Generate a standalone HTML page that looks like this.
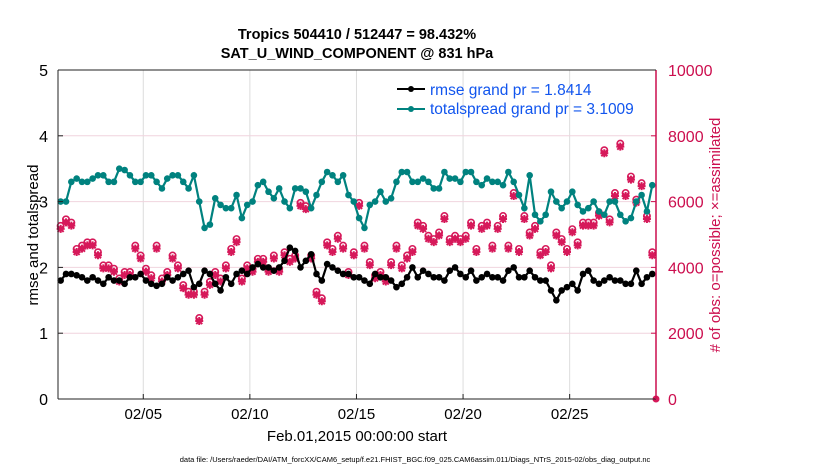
<!DOCTYPE html>
<html><head><meta charset="utf-8"><style>
body{margin:0;background:#fff;}
svg text{font-family:"Liberation Sans",sans-serif;}
</style></head><body>
<svg id="c" width="830" height="470" viewBox="0 0 830 470" xmlns="http://www.w3.org/2000/svg">
<text x="357" y="39" text-anchor="middle" font-size="14.5" font-weight="bold">Tropics 504410 / 512447 = 98.432%</text>
<text x="357" y="58" text-anchor="middle" font-size="14.5" font-weight="bold">SAT_U_WIND_COMPONENT @ 831 hPa</text>
<g id="grid"></g><g id="marks"></g><g id="axes"></g>
<text x="430" y="95" font-size="15.5" fill="#1155ee">rmse grand pr = 1.8414</text>
<text x="430" y="114" font-size="15.5" fill="#1155ee">totalspread grand pr = 3.1009</text>
<line x1="397" y1="89" x2="425" y2="89" stroke="#000" stroke-width="2"/>
<circle cx="411" cy="89" r="3" fill="#000"/>
<line x1="397" y1="109" x2="425" y2="109" stroke="#00827f" stroke-width="2"/>
<circle cx="411" cy="109" r="3" fill="#00827f"/>
<text transform="translate(38,235) rotate(-90)" text-anchor="middle" font-size="15">rmse and totalspread</text>
<text transform="translate(720,235) rotate(-90)" text-anchor="middle" font-size="15" fill="#cc0e4e"># of obs: o=possible; ×=assimilated</text>
<text x="357" y="441" text-anchor="middle" font-size="15">Feb.01,2015 00:00:00 start</text>
<text x="415" y="462" text-anchor="middle" font-size="7.5">data file: /Users/raeder/DAI/ATM_forcXX/CAM6_setup/f.e21.FHIST_BGC.f09_025.CAM6assim.011/Diags_NTrS_2015-02/obs_diag_output.nc</text>
</svg>
<script>
const xTickLabels=["02/05","02/10","02/15","02/20","02/25"];
const xTickDays=[4,9,14,19,24];
const leftTicks=[0,1,2,3,4,5];
const rightTicks=[0,2000,4000,6000,8000,10000];
const spread=[3.0,3.0,3.3,3.35,3.3,3.3,3.35,3.4,3.4,3.3,3.3,3.5,3.48,3.4,3.3,3.3,
3.4,3.4,3.3,3.2,3.35,3.4,3.4,3.3,3.2,3.4,3.0,2.6,2.65,3.05,2.95,2.9,
2.9,3.1,2.75,2.95,3.0,3.25,3.3,3.15,3.05,3.2,3.0,2.9,3.2,3.2,3.15,2.9,
3.1,3.3,3.45,3.4,3.3,3.4,3.1,3.0,
2.75,2.6,2.95,3.0,3.15,3.0,3.05,3.3,
3.45,3.45,3.3,3.3,3.35,3.3,3.2,3.2,3.45,3.35,3.35,3.3,3.45,3.45,3.3,3.25,
3.35,3.3,3.3,3.25,3.45,3.3,3.1,2.9,3.4,2.8,2.7,2.8,3.15,3.0,2.9,3.0,
3.15,2.95,2.85,2.9,3.0,2.85,2.8,3.0,3.0,2.8,2.7,2.75,3.0,3.1,2.85,3.25];
const rmse=[1.8,1.9,1.9,1.88,1.85,1.8,1.85,1.8,1.75,1.85,1.8,1.8,1.75,1.85,1.85,1.9,
1.8,1.75,1.72,1.75,1.85,1.8,1.85,1.9,1.95,1.7,1.75,1.95,1.9,1.75,1.65,1.85,
1.75,1.9,1.95,1.9,2.0,2.05,2.0,2.0,1.95,2.0,2.1,2.3,2.25,2.0,2.1,2.2,
1.9,1.8,2.05,2.0,1.95,1.9,1.9,1.85,
1.85,1.8,1.75,1.9,1.85,1.85,1.8,1.7,
1.75,1.85,2.0,1.85,1.95,1.9,1.85,1.85,1.8,1.95,2.0,1.9,1.85,1.95,1.8,1.85,
1.9,1.85,1.85,1.8,1.95,2.0,1.85,1.85,1.95,1.85,1.8,1.8,1.65,1.5,1.65,1.7,
1.75,1.65,1.9,1.95,1.8,1.75,1.8,1.85,1.8,1.8,1.75,1.75,1.95,1.75,1.85,1.9];
const obs=[5.2,5.4,5.3,4.5,4.6,4.7,4.7,4.4,4.0,4.0,3.9,3.6,3.8,3.8,4.6,4.3,
3.9,3.7,4.6,3.6,3.8,4.3,4.0,3.4,3.2,3.2,2.4,3.2,3.5,3.8,3.6,4.0,
4.5,4.8,3.6,4.0,3.9,4.2,4.2,3.9,4.3,3.9,4.4,4.2,4.3,5.9,5.8,4.3,
3.2,3.0,4.7,4.5,4.9,4.6,3.8,4.4,
5.9,4.6,4.1,3.7,3.8,3.6,4.1,4.6,
4.0,4.3,4.5,5.3,5.2,4.9,4.8,5.0,5.5,4.8,4.9,4.8,4.9,5.3,4.5,5.2,
5.3,4.6,5.2,5.5,4.6,6.2,4.5,5.5,5.0,5.2,4.4,4.5,4.0,5.0,4.8,4.5,
5.1,4.7,5.3,5.3,5.3,5.6,7.5,5.4,6.2,7.7,6.2,6.7,6.0,6.5,5.5,4.4];
const NS="http://www.w3.org/2000/svg";
const X0=58,X1=656,Y0=399,Y1=70,DAYS=28.05;
const xs=d=>X0+(X1-X0)*d/DAYS;
const yl=v=>Y0-(Y0-Y1)*v/5;
const yr=v=>Y0-(Y0-Y1)*v/10000;
function mk(t,a,p){const e=document.createElementNS(NS,t);for(const k in a)e.setAttribute(k,a[k]);p.appendChild(e);return e;}
const grid=document.getElementById('grid'),marks=document.getElementById('marks'),axes=document.getElementById('axes');
xTickDays.forEach((d,i)=>{
 const l=mk('line',{x1:xs(d),x2:xs(d),y1:Y1,y2:Y0,stroke:'#dcdcdc','stroke-width':1},grid);
 
 
 const t=mk('text',{x:xs(d),y:Y0+20,'text-anchor':'middle','font-size':15},axes);t.textContent=xTickLabels[i];
 
 
 mk('line',{x1:xs(d),x2:xs(d),y1:Y0,y2:Y0-5,stroke:'#222'},axes);
});
rightTicks.forEach(v=>{
 if(v>0&&v<10000){const g=mk('line',{x1:X0,x2:X1,y1:yr(v),y2:yr(v),stroke:'#f0d4de','stroke-width':1},grid);
 
 }
 const t=mk('text',{x:X1+12,y:yr(v)+6,'font-size':16,fill:'#cc0e4e'},axes);t.textContent=v;
 
 
 mk('line',{x1:X1,x2:X1-5,y1:yr(v),y2:yr(v),stroke:'#cc0e4e'},axes);
});
leftTicks.forEach(v=>{
 const t=mk('text',{x:X0-10,y:yl(v)+6,'text-anchor':'end','font-size':16},axes);t.textContent=v;
 
 
 mk('line',{x1:X0,x2:X0+5,y1:yl(v),y2:yl(v),stroke:'#222'},axes);
});
const fa=mk('line',{x1:X0,x2:X0,y1:Y1,y2:Y0,stroke:'#222'},axes);


const fb=mk('line',{x1:X0,x2:X1,y1:Y0,y2:Y0,stroke:'#222'},axes);


const fr=mk('line',{x1:X1,x2:X1,y1:Y1,y2:Y0,stroke:'#cc0e4e','stroke-width':1.5},axes);


const ft=mk('line',{x1:X0,x2:X1,y1:Y1,y2:Y1,stroke:'#222'},axes);


obs.forEach((v,i)=>{
 const x=xs(i*0.25+0.125),y=yr(v*1000);
 const c=mk('circle',{cx:x,cy:y-2,r:3.2,fill:'none',stroke:'#d6195a','stroke-width':1.6},marks);
 
 
 const p=mk('path',{d:`M${x-4} ${y+1}L${x+4} ${y+1}M${x} ${y-3}L${x} ${y+5}M${x-3} ${y-2}L${x+3} ${y+4}M${x+3} ${y-2}L${x-3} ${y+4}`,stroke:'#d6195a','stroke-width':2},marks);
 
 
});
const ep=mk('circle',{cx:X1,cy:Y0,r:3.5,fill:'#d6195a'},marks);


function series(arr,col,name){
 const pts=arr.map((v,i)=>[xs(i*0.25+0.125),yl(v)]);
 const pl=mk('polyline',{points:pts.map(p=>p.join(',')).join(' '),fill:'none',stroke:col,'stroke-width':2.2},marks);
 
 
 pts.forEach(p=>{const c=mk('circle',{cx:p[0],cy:p[1],r:3.3,fill:col},marks);
 
 });
}
series(spread,'#00827f','spread');
series(rmse,'#000','rmse');
</script>
</body></html>
